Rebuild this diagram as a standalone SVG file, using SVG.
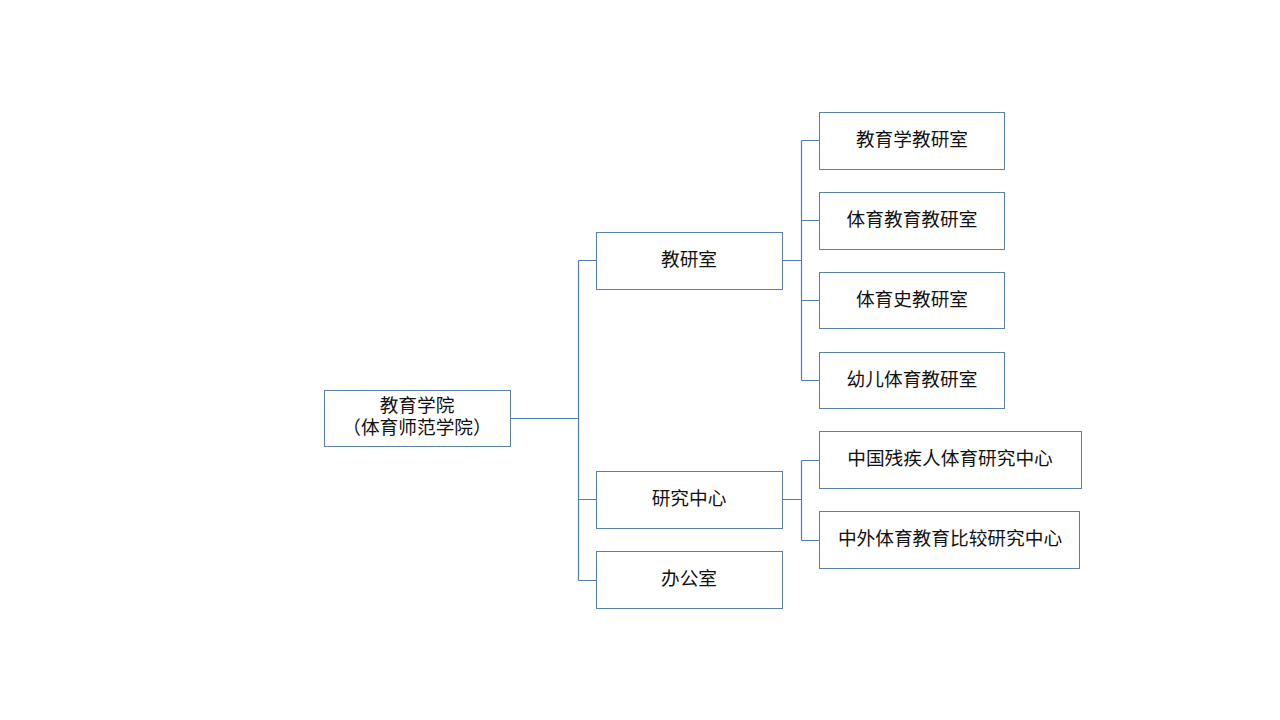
<svg xmlns="http://www.w3.org/2000/svg" width="1280" height="720" viewBox="0 0 1280 720">
<style>
.box{fill:#fff;stroke:#5a80ad;stroke-width:1}
.lbl{font-family:"Liberation Sans","Noto Sans CJK SC",sans-serif;font-size:18.7px;fill:#111;text-anchor:middle;dominant-baseline:central}
.con{fill:none;stroke:#4f7cb3;stroke-width:1.2}
</style>
<rect width="1280" height="720" fill="#fff"/>
<g id="connectors">
<path class="con" d="M510.5 418.5H578.5M578.5 260.5V580.5M578.5 260.5H596.5M578.5 499.5H596.5M578.5 580.5H596.5"/>
<path class="con" d="M782.5 260.5H801.5M801.5 140.5V380.5M801.5 140.5H819.5M801.5 220.5H819.5M801.5 300.5H819.5M801.5 380.5H819.5"/>
<path class="con" d="M782.5 499.5H801.5M801.5 460.5V540.5M801.5 460.5H819.5M801.5 540.5H819.5"/>
</g>
<g id="root"><rect class="box" x="324.5" y="390.5" width="186" height="56"/><text class="lbl" x="417" y="405">教育学院</text><text class="lbl" x="417" y="427">（体育师范学院）</text></g>
<g id="jiaoyanshi"><rect class="box" x="596.5" y="232.5" width="186" height="57"/><text class="lbl" x="689" y="259">教研室</text></g>
<g id="yanjiuzhongxin"><rect class="box" x="596.5" y="471.5" width="186" height="57"/><text class="lbl" x="689" y="498">研究中心</text></g>
<g id="bangongshi"><rect class="box" x="596.5" y="551.5" width="186" height="57"/><text class="lbl" x="689" y="578">办公室</text></g>
<g id="leaf1"><rect class="box" x="819.5" y="112.5" width="185" height="57"/><text class="lbl" x="912" y="139">教育学教研室</text></g>
<g id="leaf2"><rect class="box" x="819.5" y="192.5" width="185" height="57"/><text class="lbl" x="912" y="219">体育教育教研室</text></g>
<g id="leaf3"><rect class="box" x="819.5" y="272.5" width="185" height="56"/><text class="lbl" x="912" y="299">体育史教研室</text></g>
<g id="leaf4"><rect class="box" x="819.5" y="352.5" width="185" height="56"/><text class="lbl" x="912" y="379">幼儿体育教研室</text></g>
<g id="leaf5"><rect class="box" x="819.5" y="431.5" width="262" height="57"/><text class="lbl" x="950" y="458">中国残疾人体育研究中心</text></g>
<g id="leaf6"><rect class="box" x="819.5" y="511.5" width="260" height="57"/><text class="lbl" x="950" y="538">中外体育教育比较研究中心</text></g>
</svg>
